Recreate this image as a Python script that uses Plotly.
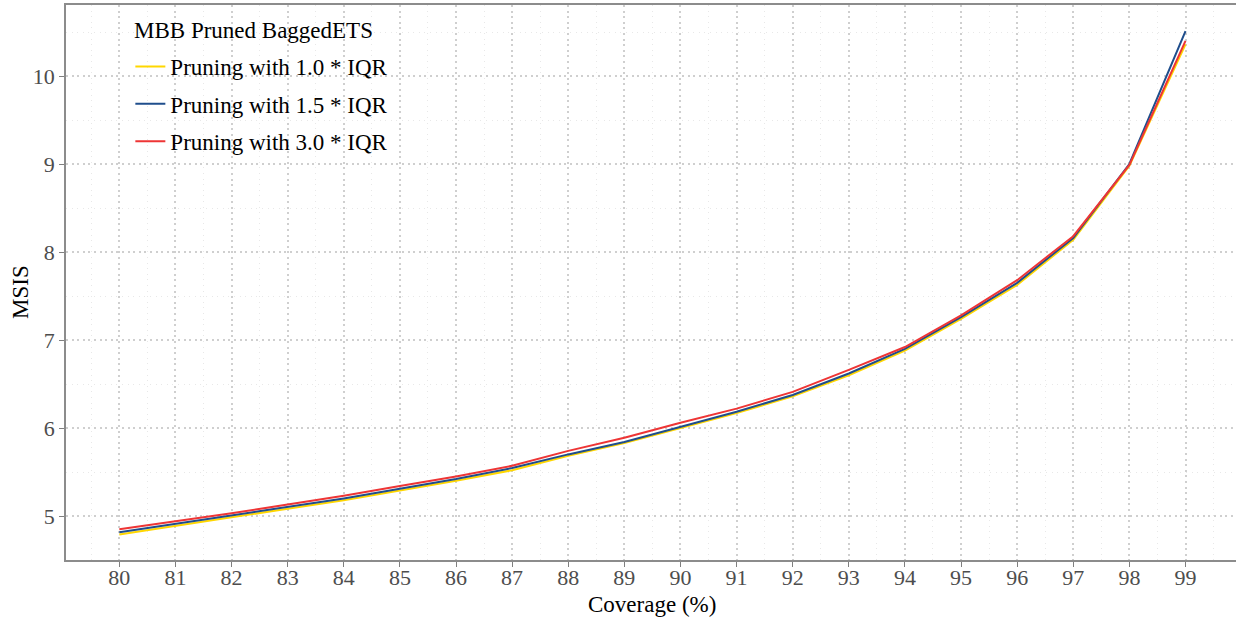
import plotly.graph_objects as go

coverage = list(range(80, 100))

msis_iqr_10 = [4.79, 4.886, 4.985, 5.08, 5.18, 5.29, 5.40, 5.52, 5.685, 5.83,
               6.00, 6.17, 6.36, 6.60, 6.88, 7.24, 7.625, 8.14, 8.98, 10.36]
msis_iqr_15 = [4.815, 4.91, 5.01, 5.105, 5.20, 5.31, 5.42, 5.545, 5.70, 5.84,
               6.015, 6.185, 6.375, 6.62, 6.90, 7.26, 7.65, 8.16, 9.00, 10.51]
msis_iqr_30 = [4.849, 4.94, 5.03, 5.13, 5.23, 5.34, 5.45, 5.57, 5.74, 5.89,
               6.06, 6.22, 6.41, 6.66, 6.92, 7.28, 7.68, 8.18, 8.99, 10.40]

series_names = ["Pruning with 1.0 * IQR", "Pruning with 1.5 * IQR", "Pruning with 3.0 * IQR"]
series_colors = ["#FFD700", "#1F4E8C", "#EE3535"]
series_values = [msis_iqr_10, msis_iqr_15, msis_iqr_30]

FONT = "Liberation Serif"
W, H = 1236, 617
ML, MR, MT, MB = 66, 0, 5, 57
PW, PH = W - ML - MR, H - MT - MB


def px_x(p):
    return (p - ML) / PW


def px_y(p):
    return 1 - (p - MT) / PH


fig = go.Figure()
for i, (name, color, vals) in enumerate(zip(series_names, series_colors, series_values)):
    fig.add_trace(go.Scatter(
        x=coverage, y=vals, mode="lines", name=name,
        legendgroup=f"g{i}",
        line=dict(color=color, width=2),
    ))

grid_major = "#CFCFCF"
grid_minor = "#E8E8E8"
major_dash = "2px,3.6px"
minor_dash = "1px,4.6px"

fig.update_layout(
    width=W, height=H,
    margin=dict(l=ML, r=MR, t=MT, b=MB, autoexpand=False),
    paper_bgcolor="white", plot_bgcolor="white",
    font=dict(family=FONT, size=22, color="black"),
    showlegend=True,
    legend=dict(
        x=0.055, y=px_y(45), xanchor="left", yanchor="top",
        bgcolor="rgba(0,0,0,0)",
        font=dict(family=FONT, size=23, color="black"),
        tracegroupgap=4.5,
    ),
    xaxis=dict(
        range=[79.05, 99.9], automargin=False,
        tickmode="array", tickvals=coverage, ticktext=[str(c) for c in coverage],
        tickfont=dict(family=FONT, size=22, color="#4D4D4D"),
        ticks="outside", ticklen=5, tickcolor="#7F7F7F",
        ticklabelstandoff=-8,
        showline=True, linecolor="#8C8C8C", linewidth=1.5, mirror=True,
        showgrid=True, gridcolor=grid_major, griddash=major_dash, gridwidth=1.5,
        minor=dict(dtick=0.5, tick0=79.5, showgrid=True, gridcolor=grid_minor,
                   griddash=minor_dash, gridwidth=1, ticks=""),
        zeroline=False,
    ),
    yaxis=dict(
        range=[4.5, 10.807], automargin=False,
        tickmode="array", tickvals=[5, 6, 7, 8, 9, 10],
        tickfont=dict(family=FONT, size=22, color="#4D4D4D"),
        ticks="outside", ticklen=5, tickcolor="#7F7F7F",
        showline=True, linecolor="#8C8C8C", linewidth=1.5, mirror=False,
        showgrid=True, gridcolor=grid_major, griddash=major_dash, gridwidth=1.5,
        minor=dict(dtick=0.5, tick0=4.5, showgrid=True, gridcolor=grid_minor,
                   griddash=minor_dash, gridwidth=1, ticks=""),
        zeroline=False,
    ),
    annotations=[
        dict(text="Coverage (%)", xref="paper", yref="paper",
             x=px_x(652), y=px_y(604), xanchor="center", yanchor="middle",
             showarrow=False, font=dict(family=FONT, size=23, color="black")),
        dict(text="MSIS", xref="paper", yref="paper", textangle=-90,
             x=px_x(20), y=px_y(292), xanchor="center", yanchor="middle",
             showarrow=False, font=dict(family=FONT, size=23, color="black")),
        dict(text="MBB Pruned BaggedETS", xref="paper", yref="paper",
             x=px_x(132), y=px_y(31), xanchor="left", yanchor="middle",
             showarrow=False, font=dict(family=FONT, size=23, color="black")),
    ],
)

fig.write_html("out.html")
